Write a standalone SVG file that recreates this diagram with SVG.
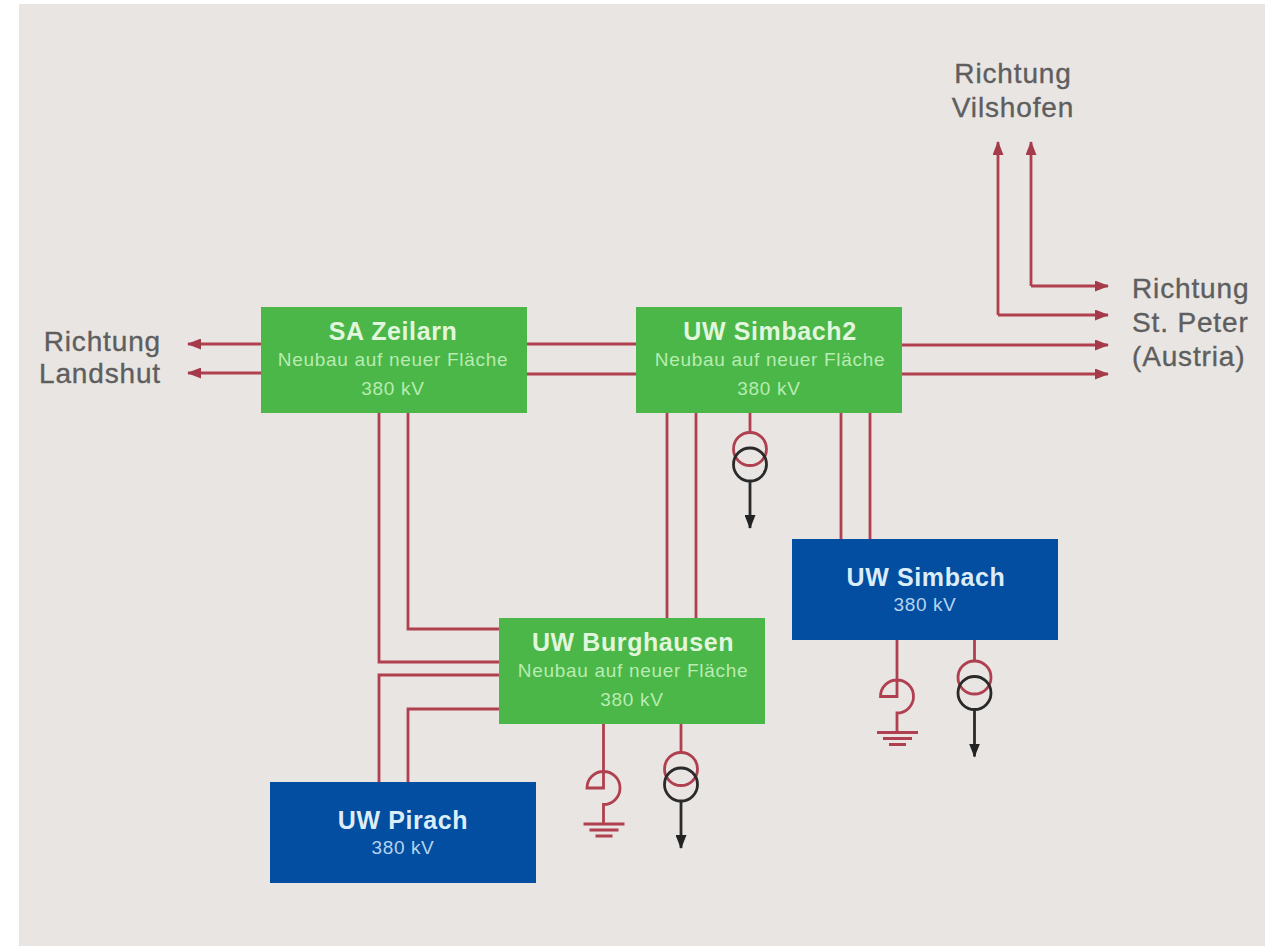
<svg xmlns="http://www.w3.org/2000/svg" width="1265" height="946" viewBox="0 0 1265 946">
<defs>
<marker id="ar" markerUnits="userSpaceOnUse" markerWidth="14" markerHeight="11" refX="13" refY="5.5" orient="auto"><path d="M0 0L14 5.5L0 11Z" fill="#a53a4a"/></marker>
<marker id="ab" markerUnits="userSpaceOnUse" markerWidth="14" markerHeight="11" refX="13" refY="5.5" orient="auto"><path d="M0 0L14 5.5L0 11Z" fill="#222"/></marker>
<g id="tr"><path d="M0 0V28" class="r"/><circle cx="0" cy="45" r="16.5" class="r"/><circle cx="0" cy="60.5" r="16.5" class="k"/><path d="M0 77V124" class="k" marker-end="url(#ab)"/></g>
<g id="gnd"><path d="M0 0V64H-16.5A16.5 16.5 0 0 1 0 47.500A16.500 16.500 0 0 1 0 80.500V100" class="r"/><path d="M-20 100H21M-14 106H15M-8 112H9" class="r"/></g>
</defs>
<style>
.r{fill:none;stroke:#b0404f;stroke-width:2.8}
.k{fill:none;stroke:#2a2a2a;stroke-width:2.8}
.ra{marker-end:url(#ar)}
.g{fill:#4bb748}.b{fill:#034ea0}
text{font-family:"Liberation Sans",Arial,sans-serif;text-anchor:middle}
.t{font-size:25px;font-weight:700;letter-spacing:.6px;fill:#e2f6dd}
.u{font-size:25px;font-weight:700;letter-spacing:.6px;fill:#dcedf8}
.s{font-size:19px;letter-spacing:.7px;fill:#b8ecb2}
.w{font-size:19px;letter-spacing:.6px;fill:#b5d4ee}
.l{font-size:28px;letter-spacing:.85px;fill:#5e5e5e;stroke:#5e5e5e;stroke-width:.35px}
.e{text-anchor:end}.st{text-anchor:start}
</style>
<rect width="1265" height="946" fill="#fff"/>
<rect x="19" y="4" width="1246" height="942" fill="#e8e5e2"/>
<g id="connectors">
<path class="r ra" d="M262 344H188"/><path class="r ra" d="M262 373H188"/>
<path class="r" d="M526 344H637M526 374H637"/>
<path class="r ra" d="M902 345H1108"/><path class="r ra" d="M902 374H1108"/>
<path class="r ra" d="M998 315V142"/><path class="r ra" d="M998 315H1108"/>
<path class="r ra" d="M1031 286V142"/><path class="r ra" d="M1031 286H1108"/>
<path class="r" d="M379 412V662H500M408 412V629H500M379 782V675H500M408 782V709H500"/>
<path class="r" d="M667 412V618M696 412V618M841 412V540M870 412V540"/>
<use href="#tr" x="750" y="404"/>
<use href="#tr" x="681" y="724"/>
<use href="#tr" x="974.500" y="632.500"/>
<use href="#gnd" x="603.500" y="724"/>
<use href="#gnd" x="897" y="632.500"/>
</g>
<g id="sa-zeilarn"><rect class="g" x="261" y="307" width="266" height="106"/><text class="t" x="393" y="340">SA Zeilarn</text><text class="s" x="393" y="366">Neubau auf neuer Fläche</text><text class="s" x="393" y="395">380 kV</text></g>
<g id="uw-simbach2"><rect class="g" x="636" y="307" width="266" height="106"/><text class="t" x="770" y="340">UW Simbach2</text><text class="s" x="770" y="366">Neubau auf neuer Fläche</text><text class="s" x="769" y="395">380 kV</text></g>
<g id="uw-burghausen"><rect class="g" x="499" y="618" width="266" height="106"/><text class="t" x="633" y="651">UW Burghausen</text><text class="s" x="633" y="677">Neubau auf neuer Fläche</text><text class="s" x="632" y="706">380 kV</text></g>
<g id="uw-simbach"><rect class="b" x="792" y="539" width="266" height="101"/><text class="u" x="926" y="586">UW Simbach</text><text class="w" x="925" y="611">380 kV</text></g>
<g id="uw-pirach"><rect class="b" x="270" y="782" width="266" height="101"/><text class="u" x="403" y="829">UW Pirach</text><text class="w" x="403" y="854">380 kV</text></g>
<g id="labels">
<text class="l" x="1013" y="83">Richtung</text><text class="l" x="1013" y="117">Vilshofen</text>
<text class="l st" x="1132" y="298">Richtung</text><text class="l st" x="1132" y="332">St. Peter</text><text class="l st" x="1132" y="366">(Austria)</text>
<text class="l e" x="161" y="351">Richtung</text><text class="l e" x="161" y="383">Landshut</text>
</g>
</svg>
